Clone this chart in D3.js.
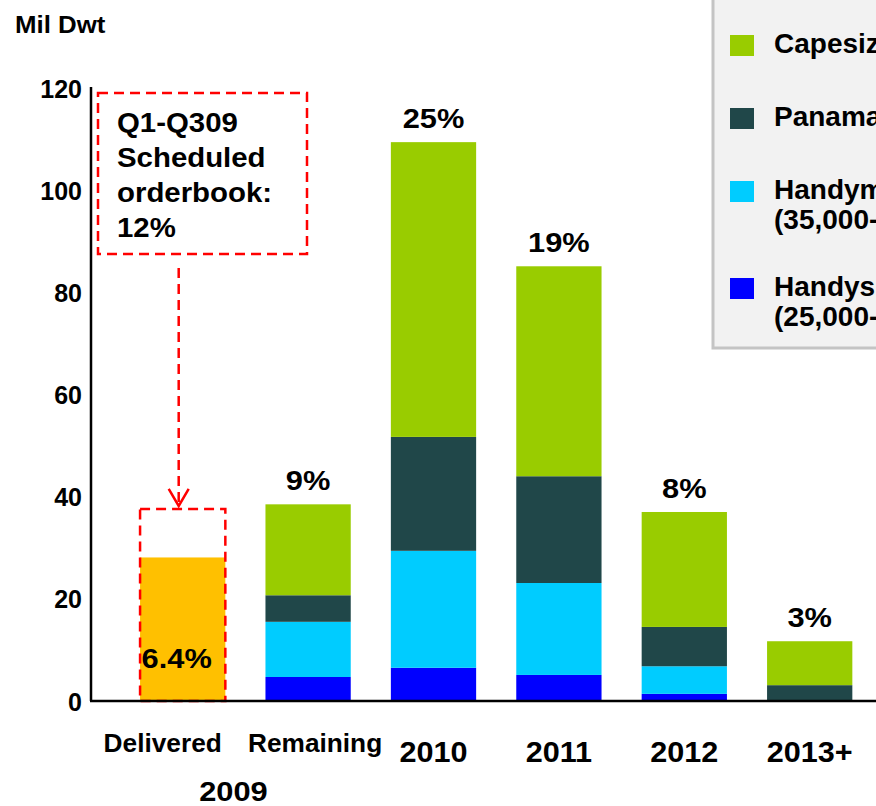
<!DOCTYPE html>
<html>
<head>
<meta charset="utf-8">
<script src="https://cdn.jsdelivr.net/npm/d3@7"></script>
<style>
  html, body { margin: 0; padding: 0; background: #ffffff; overflow: hidden; }
  svg { display: block; }
  text { font-family: "Liberation Sans", Arial, Helvetica, sans-serif; font-weight: bold; fill: #000; }
</style>
</head>
<body>
<svg id="chart" width="876" height="806"></svg>
<script>
// ---- data ----
const categories = ["Delivered", "Remaining", "2010", "2011", "2012", "2013+"];
const handysize  = [0, 4.7, 6.5, 5.1, 1.4, 0];
const handymax   = [0, 10.8, 22.9, 18.0, 5.4, 0];
const panamax    = [0, 5.2, 22.3, 20.9, 7.7, 3.1];
const capesize   = [0, 17.8, 57.7, 41.1, 22.5, 8.6];
const delivered  = [28.1, 0, 0, 0, 0, 0];
const pctLabels  = ["6.4%", "9%", "25%", "19%", "8%", "3%"];
const scheduled2009 = 37.6;
const yTicks = [0, 20, 40, 60, 80, 100, 120];
const groupLabel = "2009";
const yTitle = "Mil Dwt";
const noteLines = ["Q1-Q309", "Scheduled", "orderbook:", "12%"];
const legendNames = ["Capesize", "Panamax", "Handymax", "Handysize"];
const legendSub = [null, null, "(35,000-59,999 dwt)", "(25,000-34,999 dwt)"];

// ---- setup ----
const keys = ["handysize", "handymax", "panamax", "capesize", "delivered"];
const colors = {
  handysize: "#0000ff",
  handymax: "#00ccff",
  panamax: "#204749",
  capesize: "#99cc00",
  delivered: "#ffc000"
};
const legendKeys = ["capesize", "panamax", "handymax", "handysize"];

const table = categories.map((c, i) => ({
  cat: c,
  handysize: handysize[i],
  handymax: handymax[i],
  panamax: panamax[i],
  capesize: capesize[i],
  delivered: delivered[i]
}));

const svg = d3.select("#chart");
const x0 = 91, yBase = 701, yTop = 88;

const x = d3.scaleBand()
  .domain(categories)
  .range([120, 872.4])
  .paddingInner(0.32)
  .paddingOuter(0.16);

const y = d3.scaleLinear().domain([0, 120]).range([yBase, yTop]);

const series = d3.stack().keys(keys)(table);

// text helper with slight horizontal stretch
function label(parent, tx, ty, str, size, anchor, sx) {
  return parent.append("text")
    .attr("transform", `translate(${tx},${ty}) scale(${sx || 1},1)`)
    .attr("text-anchor", anchor || "start")
    .style("font-size", size + "px")
    .text(str);
}

// legend box (behind)
svg.append("rect")
  .attr("x", 713).attr("y", -5)
  .attr("width", 220).attr("height", 353)
  .attr("fill", "#f2f2f2")
  .attr("stroke", "#c4c4c4")
  .attr("stroke-width", 3);

// bars
svg.append("g").selectAll("g")
  .data(series)
  .join("g")
  .attr("fill", d => colors[d.key])
  .selectAll("rect")
  .data(d => d.filter(s => s[1] - s[0] > 0))
  .join("rect")
  .attr("x", d => x(d.data.cat))
  .attr("width", x.bandwidth())
  .attr("y", d => y(d[1]))
  .attr("height", d => y(d[0]) - y(d[1]));

// dashed scheduled box around delivered bar
svg.append("rect")
  .attr("x", x("Delivered"))
  .attr("y", y(scheduled2009))
  .attr("width", x.bandwidth())
  .attr("height", y(0) - y(scheduled2009))
  .attr("fill", "none")
  .attr("stroke", "#ff0000")
  .attr("stroke-width", 2.5)
  .attr("stroke-dasharray", "10,6");

// axes
const yAxis = d3.axisLeft(y).tickValues(yTicks).tickSize(0).tickPadding(9);
const gy = svg.append("g").attr("transform", `translate(${x0},0)`).call(yAxis);
gy.select(".domain").attr("stroke", "#000").attr("stroke-width", 2.5)
  .attr("d", `M0,${yTop - 1}V${yBase}`);
gy.selectAll("text")
  .style("font-size", "25px")
  .style("font-family", "'Liberation Sans', Arial, sans-serif")
  .style("font-weight", "bold")
  .attr("fill", "#000")
  .attr("dy", "0.36em");

svg.append("line")
  .attr("x1", x0 - 1).attr("x2", 876)
  .attr("y1", yBase).attr("y2", yBase)
  .attr("stroke", "#000").attr("stroke-width", 2.5);

// category labels
const catG = svg.append("g");
categories.forEach((c, i) => {
  const isYear = /^\d/.test(c);
  const shift = i === 0 ? -20 : i === 1 ? 7 : 0;
  label(catG, x(c) + x.bandwidth() / 2 + shift, isYear ? 762 : 752, c,
        isYear ? 30 : 25, "middle", isYear ? 1.02 : 1.05);
});

label(svg, (x("Delivered") + x("Remaining") + x.bandwidth()) / 2 - 12, 801,
      groupLabel, 28, "middle", 1.1);

// percentage labels
const totals = table.map(r => keys.reduce((s, k) => s + r[k], 0));
const pctG = svg.append("g");
categories.forEach((c, i) => {
  const px = x(c) + x.bandwidth() / 2 - (i === 0 ? 6 : 0);
  const py = i === 0 ? y(0) - 33 : y(totals[i]) - 14;
  label(pctG, px, py, pctLabels[i], 28, "middle", 1.1);
});

// y title
label(svg, 15, 33, yTitle, 23.5, "start", 1.1);

// annotation note box
svg.append("rect")
  .attr("x", 98).attr("y", 93)
  .attr("width", 209).attr("height", 161)
  .attr("fill", "none")
  .attr("stroke", "#ff0000")
  .attr("stroke-width", 2.5)
  .attr("stroke-dasharray", "10,6");

const noteG = svg.append("g");
noteLines.forEach((t, i) => label(noteG, 117, 132 + i * 35, t, 28, "start", 1.05));

// dashed arrow
const ax = x("Delivered") + x.bandwidth() / 2 - 4;
const aEnd = y(scheduled2009) - 3;
svg.append("line")
  .attr("x1", ax).attr("x2", ax)
  .attr("y1", 268).attr("y2", aEnd)
  .attr("stroke", "#ff0000").attr("stroke-width", 2.5)
  .attr("stroke-dasharray", "10,6");
svg.append("path")
  .attr("d", `M${ax - 10},${aEnd - 17}L${ax},${aEnd}L${ax + 10},${aEnd - 17}`)
  .attr("fill", "none")
  .attr("stroke", "#ff0000").attr("stroke-width", 2.5);

// legend
let ly = 53;
const lg = svg.append("g");
legendKeys.forEach((k, i) => {
  lg.append("rect")
    .attr("x", 730).attr("y", ly - 18)
    .attr("width", 24).attr("height", 21)
    .attr("fill", colors[k]);
  label(lg, 774, ly, legendNames[i], 28, "start", 1);
  if (legendSub[i]) {
    label(lg, 774, ly + 30, legendSub[i], 28, "start", 1);
  }
  ly += legendSub[i] ? 97 : 73;
});
</script>
</body>
</html>
